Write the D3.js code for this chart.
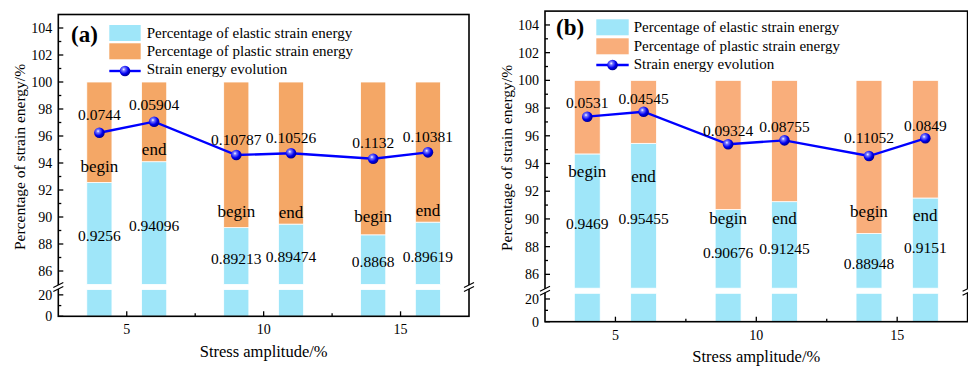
<!DOCTYPE html>
<html><head><meta charset="utf-8">
<script src="https://cdn.jsdelivr.net/npm/d3@7/dist/d3.min.js"></script>
</head><body style="margin:0"><svg id="c" width="968" height="366" style="display:block"></svg>
<script>
// ---------- data ----------
const stressAmplitude = [4, 6, 9, 11, 14, 16];
const stageLabels = ["begin", "end", "begin", "end", "begin", "end"];

const elasticA = [92.56, 94.096, 89.213, 89.474, 88.68, 89.619];
const evolutionA = [96.24, 97.06, 94.59, 94.72, 94.32, 94.79];
const plasticTextA = ["0.0744", "0.05904", "0.10787", "0.10526", "0.1132", "0.10381"];
const elasticTextA = ["0.9256", "0.94096", "0.89213", "0.89474", "0.8868", "0.89619"];

const elasticB = [94.69, 95.455, 90.676, 91.245, 88.948, 91.51];
const evolutionB = [97.38, 97.74, 95.39, 95.67, 94.54, 95.82];
const plasticTextB = ["0.0531", "0.04545", "0.09324", "0.08755", "0.11052", "0.0849"];
const elasticTextB = ["0.9469", "0.95455", "0.90676", "0.91245", "0.88948", "0.9151"];

const barTotal = 100;
const yTicksUpper = [86, 88, 90, 92, 94, 96, 98, 100, 102, 104];
const yMinorUpper = [87, 89, 91, 93, 95, 97, 99, 101, 103];
const yTicksLower = [0, 20];
const yMinorLower = [10];
const xTicks = [5, 10, 15];
const xMinor = [7.5, 12.5];
const legendLabels = ["Percentage of elastic strain energy", "Percentage of plastic strain energy", "Strain energy evolution"];

// ---------- layout (label anchor heights in data units) ----------
const layoutA = {
  tag: "(a)", left: 58.3, right: 469, up: [284.5, 14.5], low: [316.3, 289.5], plastic: "#f4a766",
  rateY: [97.16, 97.93, 95.33, 95.50, 95.09, 95.58],
  stageY: [93.33, 94.59, 90.0, 89.93, 89.63, 90.07],
  valY: [88.22, 89.0, 86.52, 86.63, 86.30, 86.70],
  tagPos: [71, 42], leg: {x: 109.3, w: 31.4, y: [25, 43.3], h: 16, ly: 71, tx: 146.7, ty: [38, 55.5, 73.5]},
  xTitleY: 357, yTitleX: 25, yTitleC: 157
};
const layoutB = {
  tag: "(b)", left: 545, right: 967.6, up: [288.2, 11.1], low: [321.7, 293.3], plastic: "#f9ae7b",
  rateY: [98.01, 98.30, 95.95, 96.24, 95.48, 96.31],
  stageY: [93.03, 92.70, 89.60, 89.63, 90.14, 89.85],
  valY: [89.24, 89.63, 87.21, 87.47, 86.38, 87.57],
  tagPos: [556, 35], leg: {x: 596.3, w: 32.4, y: [19.3, 38.3], h: 16, ly: 65, tx: 633.7, ty: [32, 50.5, 68.5]},
  xTitleY: 362, yTitleX: 512, yTitleC: 158
};
const cyan = "#9fe6f9";

const svg = d3.select("#c");
const defs = svg.append("defs");
const grad = defs.append("radialGradient").attr("id", "ball").attr("cx", "38%").attr("cy", "35%").attr("r", "65%");
grad.append("stop").attr("offset", "0%").attr("stop-color", "#ffffff");
grad.append("stop").attr("offset", "22%").attr("stop-color", "#7a7aff");
grad.append("stop").attr("offset", "65%").attr("stop-color", "#0000f0");
grad.append("stop").attr("offset", "100%").attr("stop-color", "#000090");

function txt(sel, size) {
  return sel.append("text").style("font-family", '"Tinos"').style("font-size", size + "px");
}

function panel(L, elastic, evolution, plasticText, elasticText) {
  const g = svg.append("g");
  const x = d3.scaleLinear().domain([2.5, 17.5]).range([L.left, L.right]);
  const yU = d3.scaleLinear().domain([85, 105]).range(L.up);
  const yL = d3.scaleLinear().domain([0, 25]).range(L.low);
  const bw = x(2.5 + 0.92) - x(2.5);
  const top = yU(105), bottom = yL(0);

  const bars = g.append("g");
  stressAmplitude.forEach((s, i) => {
    const bx = x(s) - bw / 2;
    bars.append("rect").attr("x", bx).attr("y", yL(25)).attr("width", bw).attr("height", yL(0) - yL(25))
      .attr("fill", cyan).attr("stroke", "#fff").attr("stroke-width", 0.8);
    bars.append("rect").attr("x", bx).attr("y", yU(elastic[i])).attr("width", bw).attr("height", yU(85) - yU(elastic[i]))
      .attr("fill", cyan).attr("stroke", "#fff").attr("stroke-width", 0.8);
    bars.append("rect").attr("x", bx).attr("y", yU(barTotal)).attr("width", bw).attr("height", yU(elastic[i]) - yU(barTotal))
      .attr("fill", L.plastic).attr("stroke", "#fff").attr("stroke-width", 0.8);
  });

  const line = d3.line().x((d, i) => x(stressAmplitude[i])).y(d => yU(d));
  g.append("path").datum(evolution).attr("d", line).attr("fill", "none").attr("stroke", "#0000ff").attr("stroke-width", 2.4);
  g.selectAll(".pt").data(evolution).enter().append("circle")
    .attr("cx", (d, i) => x(stressAmplitude[i])).attr("cy", d => yU(d)).attr("r", 5.3).attr("fill", "url(#ball)");

  const ann = g.append("g");
  stressAmplitude.forEach((s, i) => {
    txt(ann, 15.5).attr("x", x(s)).attr("y", yU(L.rateY[i])).attr("text-anchor", "middle").text(plasticText[i]);
    txt(ann, 17).attr("x", x(s)).attr("y", yU(L.stageY[i])).attr("text-anchor", "middle").text(stageLabels[i]);
    txt(ann, 15.5).attr("x", x(s)).attr("y", yU(L.valY[i])).attr("text-anchor", "middle").text(elasticText[i]);
  });

  const ax = g.append("g").attr("stroke", "#000").attr("fill", "none");
  ax.append("rect").attr("x", L.left).attr("y", top).attr("width", L.right - L.left).attr("height", bottom - top).attr("stroke-width", 1.6);

  const tk = g.append("g").attr("stroke", "#000").attr("stroke-width", 1.3);
  yTicksUpper.forEach(v => tk.append("line").attr("x1", L.left).attr("x2", L.left + 5).attr("y1", yU(v)).attr("y2", yU(v)));
  yMinorUpper.forEach(v => tk.append("line").attr("x1", L.left).attr("x2", L.left + 3).attr("y1", yU(v)).attr("y2", yU(v)));
  yTicksLower.forEach(v => tk.append("line").attr("x1", L.left).attr("x2", L.left + 5).attr("y1", yL(v)).attr("y2", yL(v)));
  yMinorLower.forEach(v => tk.append("line").attr("x1", L.left).attr("x2", L.left + 3).attr("y1", yL(v)).attr("y2", yL(v)));
  xTicks.forEach(v => tk.append("line").attr("x1", x(v)).attr("x2", x(v)).attr("y1", bottom).attr("y2", bottom - 5));
  xMinor.forEach(v => tk.append("line").attr("x1", x(v)).attr("x2", x(v)).attr("y1", bottom).attr("y2", bottom - 3));

  const tl = g.append("g");
  yTicksUpper.forEach(v => txt(tl, 14).attr("x", L.left - 6).attr("y", yU(v) + 5).attr("text-anchor", "end").text(v));
  yTicksLower.forEach(v => txt(tl, 14).attr("x", L.left - 6).attr("y", yL(v) + 5).attr("text-anchor", "end").text(v));
  xTicks.forEach(v => txt(tl, 14).attr("x", x(v)).attr("y", bottom + 18).attr("text-anchor", "middle").text(v));

  const gapMid = (yU(85) + yL(25)) / 2;
  [L.left, L.right].forEach(ex => {
    g.append("rect").attr("x", ex - 2).attr("y", gapMid - 2).attr("width", 4).attr("height", 4).attr("fill", "#fff");
    [-2, 2].forEach(o => g.append("line").attr("x1", ex - 5).attr("x2", ex + 5).attr("y1", gapMid + o + 2.5).attr("y2", gapMid + o - 2.5)
      .attr("stroke", "#000").attr("stroke-width", 1.2));
  });

  txt(g, 16.5).attr("x", x(10)).attr("y", L.xTitleY).attr("text-anchor", "middle").text("Stress amplitude/%");
  txt(g, 15.5).attr("transform", `translate(${L.yTitleX},${L.yTitleC}) rotate(-90)`).attr("text-anchor", "middle")
    .text("Percentage of strain energy/%");
  txt(g, 23).attr("x", L.tagPos[0]).attr("y", L.tagPos[1]).style("font-weight", "bold").text(L.tag);

  const lg = g.append("g");
  lg.append("rect").attr("x", L.leg.x).attr("y", L.leg.y[0]).attr("width", L.leg.w).attr("height", L.leg.h).attr("fill", cyan);
  lg.append("rect").attr("x", L.leg.x).attr("y", L.leg.y[1]).attr("width", L.leg.w).attr("height", L.leg.h).attr("fill", L.plastic);
  lg.append("line").attr("x1", L.leg.x).attr("x2", L.leg.x + L.leg.w).attr("y1", L.leg.ly).attr("y2", L.leg.ly).attr("stroke", "#0000ff").attr("stroke-width", 2.4);
  lg.append("circle").attr("cx", L.leg.x + L.leg.w / 2).attr("cy", L.leg.ly).attr("r", 5.3).attr("fill", "url(#ball)");
  legendLabels.forEach((t, i) => txt(lg, 15).attr("x", L.leg.tx).attr("y", L.leg.ty[i]).text(t));
}

panel(layoutA, elasticA, evolutionA, plasticTextA, elasticTextA);
panel(layoutB, elasticB, evolutionB, plasticTextB, elasticTextB);
</script></body></html>
